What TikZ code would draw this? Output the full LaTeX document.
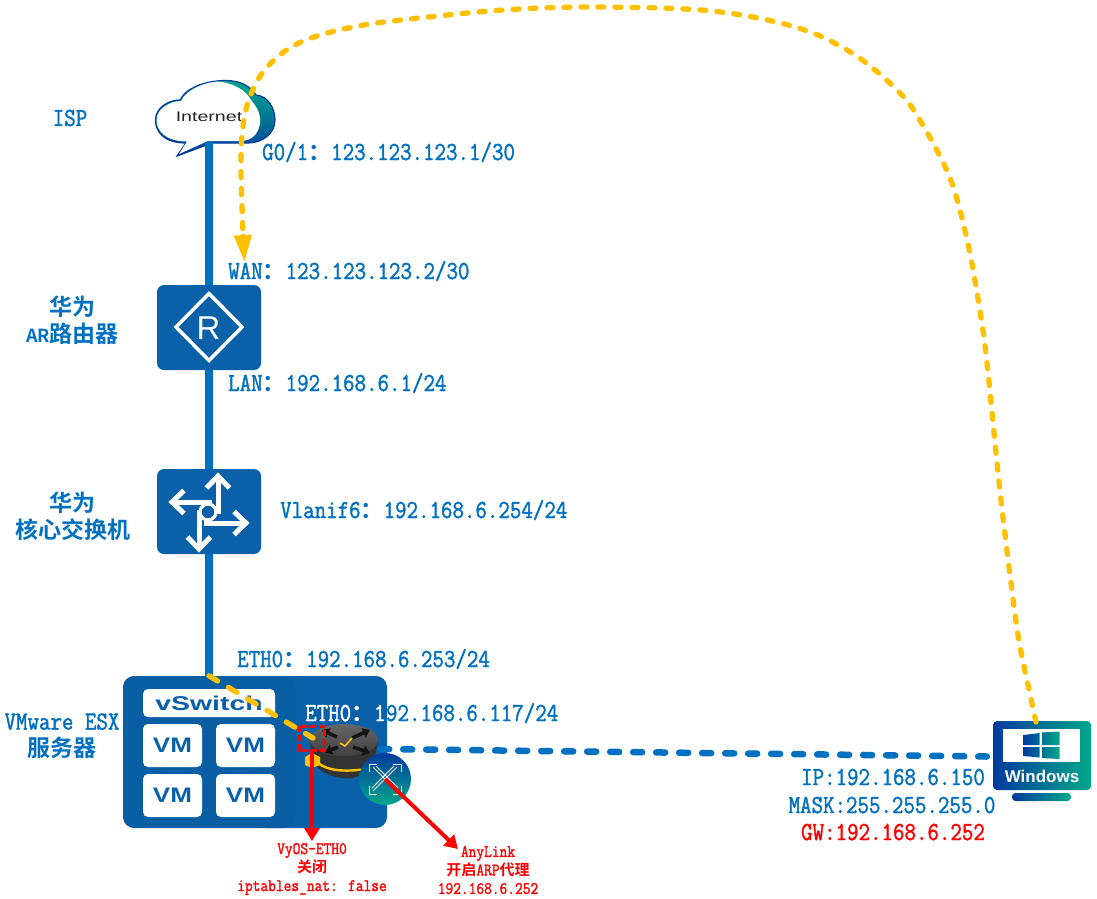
\documentclass[tikz,border=0pt]{standalone}
\usepackage{fontspec}
\usetikzlibrary{arrows.meta}
\setsansfont{Liberation Sans}
\newfontfamily\cjk{Noto Sans CJK SC}[BoldFont={* Bold}]
\newfontfamily\lab[FakeStretch=0.858,FakeBold=1.5]{Latin Modern Mono}
\definecolor{linkblue}{HTML}{0070C0}
\definecolor{boxblue}{HTML}{0A61A9}
\definecolor{gold}{HTML}{FFC000}
\definecolor{deepb}{HTML}{003A9E}
\definecolor{teal}{HTML}{00A88A}
\newcommand{\cc}{{\cjk\bfseries\fontsize{23}{23}\selectfont ：}}
\tikzset{
 x=1pt,y=-1pt,
 lbl/.style={anchor=base west,inner sep=0pt,text=linkblue,font=\lab\fontsize{26}{26}\selectfont},
 title/.style={inner sep=0pt,align=center,text=linkblue,font=\cjk\bfseries\fontsize{23}{27}\selectfont},
 redsmall/.style={inner sep=0pt,align=center,text=red,font=\fontsize{15}{18.5}\selectfont},
 device/.style={rectangle,rounded corners=7pt,fill=boxblue,inner sep=0pt},
 tile/.style={rectangle,rounded corners=4pt,fill=white,inner sep=0pt,text=boxblue},
 trunk/.style={draw=linkblue,line width=8pt},
 golddash/.style={draw=gold,line width=5.3pt,line cap=round,dash pattern=on 10pt off 12.5pt},
 goldfine/.style={draw=gold,line width=5.3pt,line cap=round,dash pattern=on 6pt off 11pt},
 bluedash/.style={draw=linkblue,line width=6.5pt,line cap=round,dash pattern=on 9pt off 14pt},
 redarrow/.style={draw=red,line width=4pt,-{Triangle[length=13pt,width=15pt]}},
 iconline/.style={draw=white,line width=5pt,line join=miter},
 ticon/.style={draw=white,line width=.9pt},
}
\begin{document}
\begin{tikzpicture}
\useasboundingbox (0,0) rectangle (1097,898);
\fill[white] (0,0) rectangle (1097,898);

% cloud
\shadedraw[draw=deepb,line width=1.2pt,top color=teal,bottom color=deepb,middle color=teal!55!deepb]
 (177,156) -- (186,143) .. controls (164,143) and (155.5,132) .. (155.5,120)
 .. controls (155.5,108) and (168,100) .. (180,100)
 .. controls (186,88) and (205,80.5) .. (226,80.5)
 .. controls (242,80.5) and (252,88) .. (256,95)
 .. controls (268,96) and (275,108) .. (275,120)
 .. controls (275,134) and (262,143) .. (248,143)
 -- (212,143) -- cycle;
\fill[white]
 (179,154) -- (187,141.5) .. controls (166,141.5) and (156.5,131) .. (156.5,120)
 .. controls (156.5,109) and (170,101) .. (181,101)
 .. controls (186,90) and (205,81.5) .. (220,81.5)
 .. controls (234,84) and (246,90) .. (251,100)
 .. controls (258,108) and (261,116) .. (260,124)
 .. controls (258,134) and (252,141) .. (240,141)
 -- (208,141) -- cycle;
\node[inner sep=0pt,minimum width=120pt,minimum height=62pt] (cloud) at (215,111) {};
\node[inner sep=0pt,text=black!85,font=\sffamily\fontsize{14}{14}\selectfont,xscale=1.4] (inet) at (209,117) {Internet};

% hosts
\node[device,rounded corners=11pt,minimum width=132pt,minimum height=152pt] (host) at (321,752) {};
\node[device,rounded corners=11pt,minimum width=172pt,minimum height=152pt,fill=boxblue!97!black] (esx) at (209,752) {};
\node[tile,rounded corners=5pt,minimum width=132pt,minimum height=28pt] (vsw) at (209,703) {};
\node[inner sep=0pt,text=boxblue,font=\sffamily\bfseries\fontsize{20}{20}\selectfont,xscale=1.42] (vswt) at (209,703) {vSwitch};
\foreach \n/\cx/\cy in {a/172.5/745.5,b/245.5/745.5,c/172.5/795.5,d/245.5/795.5}{
 \node[tile,rounded corners=5pt,minimum width=59pt,minimum height=43pt] (vm\n) at (\cx,\cy) {};
 \node[inner sep=0pt,text=boxblue,font=\sffamily\bfseries\fontsize{21}{21}\selectfont,xscale=1.24] (vmt\n) at (\cx,\cy) {VM};
}

% devices
\node[device,minimum width=104pt,minimum height=85pt] (router) at (209,327.5) {};
\node[device,minimum width=104pt,minimum height=85pt] (switch) at (209,511.5) {};
\draw[white,line width=3.5pt,line join=miter] (209,293.5) -- (242,327) -- (209,360.5) -- (176,327) -- cycle;
\node[inner sep=0pt,text=white,font=\sffamily\fontsize{33}{33}\selectfont] (rlet) at (208.5,328) {R};
\draw[white,line width=3.2pt] (208,512) circle (8pt);
\draw[iconline] (218,477) -- (218,514);
\draw[iconline] (173,502) -- (212,502);
\draw[iconline] (245,523) -- (204,523);
\draw[iconline] (199,548) -- (199,510);
\draw[iconline] (206.5,488) -- (218,476) -- (229.5,488);
\draw[iconline] (184,490.5) -- (172,502) -- (184,513.5);
\draw[iconline] (234,511.5) -- (246,523) -- (234,534.5);
\draw[iconline] (187.5,537) -- (199,549) -- (210.5,537);

% trunk links
\draw[trunk] (router.north |- cloud.south) -- (router.north);
\draw[trunk] (router.south) -- (switch.north);
\draw[trunk] (switch.south) -- (esx.north);

% windows
\shade[left color=deepb,right color=teal,rounded corners=4pt] (993,721) rectangle (1091,790);
\node[inner sep=0pt,minimum width=98pt,minimum height=69pt] (win) at (1042,755.5) {};
\fill[white] (1003,728.5) rectangle (1080,761.5);
\shade[left color=deepb,middle color=deepb,right color=teal]
 (1023.5,735) -- (1039.5,733) -- (1039.5,745) -- (1023.5,745) -- cycle
 (1042,732.5) -- (1059.5,731.5) -- (1059.5,745) -- (1042,745) -- cycle
 (1023.5,747) -- (1039.5,747) -- (1039.5,757.5) -- (1023.5,756) -- cycle
 (1042,747) -- (1059.5,747) -- (1059.5,759) -- (1042,758) -- cycle;
\node[inner sep=0pt,text=white,font=\sffamily\bfseries\fontsize{17}{17}\selectfont] (wint) at (1042,776) {Windows};
\shade[left color=deepb,right color=teal,rounded corners=3.5pt] (1012,793) rectangle (1071,801);

% VyOS router
\fill[black!80] (310,740) .. controls (311,752) and (312,762) .. (318,768) .. controls (326,775) and (338,778.5) .. (348,778.5) .. controls (362,778.5) and (376,765) .. (378,740) -- cycle;
\draw[gold,line width=2.4pt] (318,763) .. controls (328,771) and (345,772) .. (366,769);
\fill[gold] (305,757) -- (312,753) -- (320,757) -- (320,765) -- (312,768) -- (305,765) -- cycle;
\shade[top color=black!60,bottom color=black!75] (344,740) ellipse (34pt and 16pt);
\foreach \ax/\ay/\bx/\by in {337/737/322/730, 352/738/370/730, 338/747/325/752.5, 353/747/370/753}{
 \draw[black!92,line width=3.5pt,-{Triangle[length=7pt,width=10pt]}] (\ax,\ay) -- (\bx,\by);
}
\draw[gold,line width=1.6pt] (340,743) -- (345,746) -- (352,738);
\node[inner sep=0pt,minimum width=68pt,minimum height=32pt] (vyos) at (346,749) {};
\coordinate (vyosport) at (313,738);

% anylink badge
\shade[top color=deepb,bottom color=teal] (385,779) circle (26pt);
\node[circle,inner sep=0pt,minimum size=52pt] (any) at (385,779) {};
\draw[ticon] (373,767) -- (397,791) (397,767) -- (373,791) (376,766) -- (398,788) (394,766) -- (372,788);
\draw[ticon] (369,772) -- (369,764) -- (377,764) (393,764) -- (401,764) -- (401,772) (369,786) -- (369,794) -- (377,794) (401,786) -- (401,794) -- (393,794);

% dashes
\draw[bluedash] (vyos.east) -- ([yshift=-1pt,xshift=-6pt]win.west);
\draw[red,line width=3pt,dash pattern=on 6pt off 3pt] (299,726) rectangle (324,750);
\draw[golddash] (esx.north) -- (vyosport);
\coordinate (winport) at (1036,722);
\coordinate (arrowend) at (244.5,262);
\draw[goldfine,-{Triangle[length=27pt,width=17pt]}] plot[smooth,tension=.55] coordinates {(winport) (1028,685) (1018,635) (1009,567) (999,482) (987,363) (980,311) (968,244) (950,178) (918,117) (897,90) (858,57) (813,33) (763,19) (712,11) (660,8) (592,7) (540,8) (490,11) (438,16) (370,24) (320,35) (288,49) (263,72) (248,102) (242,135) (241,170) (242,205) (243,235) (arrowend)};

% red marks
\coordinate (vyoseth) at (312,749);
\coordinate (vyosarrow) at (312,841);
\draw[redarrow] (vyoseth) -- (vyosarrow);
\coordinate (anyarrow) at (458,849);
\draw[redarrow] (any.center) -- (anyarrow);

% titles
\node[title] (t1) at (70,118) {\lab\fontsize{26}{26}\selectfont ISP};
\node[title] (t2) at (72.5,320) {华为\\{\fontsize{18}{27}\selectfont AR}路由器};
\node[title] (t3) at (73,516) {华为\\核心交换机};
\node[title] (t4) at (62,736) {{\lab\fontsize{26}{26}\selectfont VMware ESX}\\服务器};

% address labels
\node[lbl] (l1) at (262,160) {G0/1\cc 123.123.123.1/30};
\node[lbl] (l2) at (228,279) {WAN\cc 123.123.123.2/30};
\node[lbl] (l3) at (228,391) {LAN\cc 192.168.6.1/24};
\node[lbl] (l4) at (280,518) {Vlanif6\cc 192.168.6.254/24};
\node[lbl] (l5) at (237,667) {ETH0\cc 192.168.6.253/24};
\node[lbl,text=white] (l6) at (305,721) {ETH0\cc 1};
\node[lbl,anchor=base west] (l7) at (l6.base east) {92.168.6.117/24};
\node[lbl,anchor=base] (l8) at (893,785) {IP:192.168.6.150};
\node[lbl,anchor=base] (l9) at (892,813) {MASK:255.255.255.0};
\node[lbl,anchor=base,text=red] (l10) at (893,840) {GW:192.168.6.252};

% red notes
\node[redsmall] (n1) at (312,869) {\lab\fontsize{17.5}{18.5}\selectfont VyOS-ETH0\\\cjk\bfseries\fontsize{15}{18.5}\selectfont 关闭\\\lab\fontsize{17.5}{18.5}\selectfont iptables\_nat: false};
\node[redsmall] (n2) at (488,870) {\lab\fontsize{17.5}{18.5}\selectfont AnyLink\\\cjk\bfseries\fontsize{15}{18.5}\selectfont 开启\lab\fontsize{17.5}{18.5}\selectfont ARP\cjk\bfseries\fontsize{15}{18.5}\selectfont 代理\\\lab\fontsize{17.5}{18.5}\selectfont 192.168.6.252};
\end{tikzpicture}
\end{document}
